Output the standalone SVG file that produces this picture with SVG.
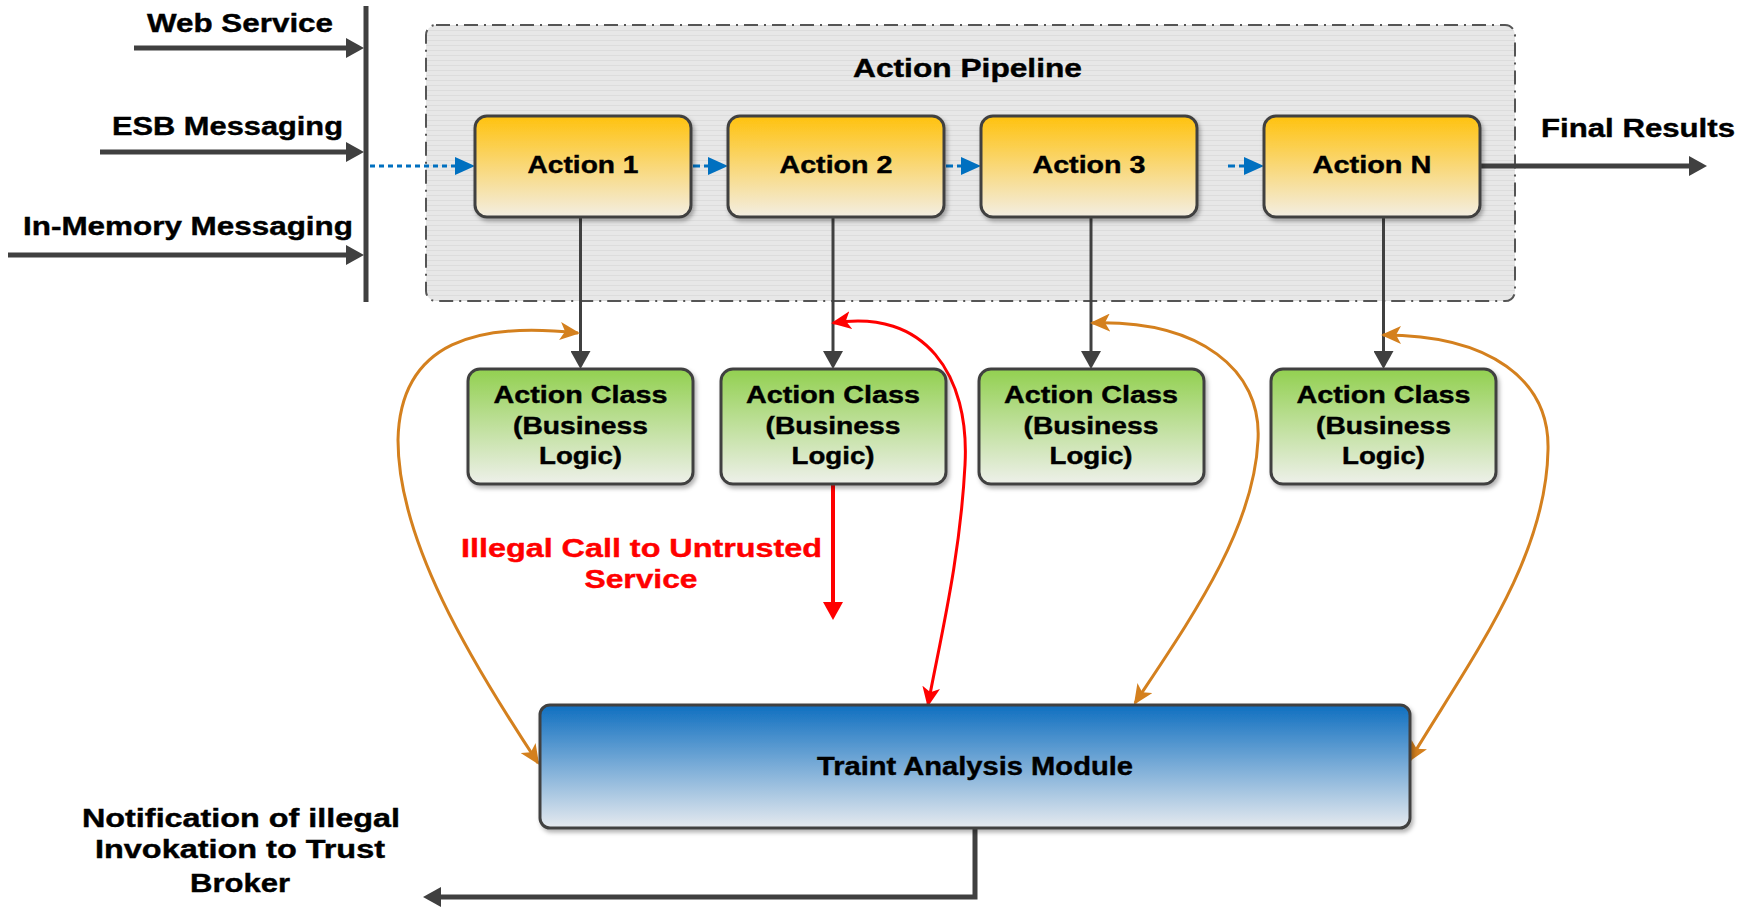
<svg xmlns="http://www.w3.org/2000/svg" width="1754" height="908" viewBox="0 0 1754 908">
<defs>
<style>
.t{font-family:"Liberation Sans",Arial,sans-serif;font-weight:bold;fill:#000;stroke:#000;stroke-width:0.4px;}
.l25{font-size:25px;}
.l24{font-size:24px;}
.l23{font-size:23px;}
.red{fill:#FF0000;stroke:#FF0000;}
.box{stroke:#404040;stroke-width:3;}
.dk{stroke:#404040;fill:none;}
.bl{stroke:#0070C0;stroke-width:3;fill:none;}
.or{stroke:#D4801E;stroke-width:3;fill:none;}
</style>
<linearGradient id="gY" x1="0" y1="0" x2="0" y2="1">
<stop offset="0" stop-color="#FFC20E"/>
<stop offset="1" stop-color="#F3EEE3"/>
</linearGradient>
<linearGradient id="gG" x1="0" y1="0" x2="0" y2="1">
<stop offset="0" stop-color="#92D050"/>
<stop offset="1" stop-color="#EEF0EA"/>
</linearGradient>
<linearGradient id="gB" x1="0" y1="0" x2="0" y2="1">
<stop offset="0" stop-color="#0F6FC0"/>
<stop offset="1" stop-color="#E6EAEF"/>
</linearGradient>
<pattern id="stripe" width="8" height="5" patternUnits="userSpaceOnUse">
<rect width="8" height="5" fill="#E7E7E7"/>
<rect width="8" height="1" fill="#DCDCDC"/>
</pattern>
<filter id="sh" x="-10%" y="-10%" width="125%" height="135%">
<feDropShadow dx="2" dy="3" stdDeviation="2" flood-color="#000" flood-opacity="0.3"/>
</filter>
<marker id="arrD" markerUnits="userSpaceOnUse" viewBox="0 0 18 20" markerWidth="18" markerHeight="20" refX="6" refY="10" orient="auto-start-reverse">
<path d="M0,0 L18,10 L0,20 z" fill="#404040"/>
</marker>
<marker id="arrB" markerUnits="userSpaceOnUse" viewBox="0 0 20 18" markerWidth="20" markerHeight="18" refX="6" refY="9" orient="auto-start-reverse">
<path d="M0,0 L20,9 L0,18 z" fill="#0070C0"/>
</marker>
<marker id="arrO" markerUnits="userSpaceOnUse" viewBox="0 0 20 18" markerWidth="20" markerHeight="18" refX="18" refY="9" orient="auto-start-reverse">
<path d="M0,0 L20,9 L0,18 L5,9 z" fill="#D4801E"/>
</marker>
<marker id="arrR" markerUnits="userSpaceOnUse" viewBox="0 0 20 18" markerWidth="20" markerHeight="18" refX="18" refY="9" orient="auto-start-reverse">
<path d="M0,0 L20,9 L0,18 L5,9 z" fill="#FF0000"/>
</marker>
<marker id="arrR2" markerUnits="userSpaceOnUse" viewBox="0 0 18 20" markerWidth="18" markerHeight="20" refX="6" refY="10" orient="auto-start-reverse">
<path d="M0,0 L18,10 L0,20 z" fill="#FF0000"/>
</marker>
</defs>
<rect width="1754" height="908" fill="#FFFFFF"/>

<g id="pipeline">
<rect x="426" y="25" width="1089" height="276" rx="10" fill="url(#stripe)" stroke="#555" stroke-width="2" stroke-dasharray="14,6,2,6"/>
<text class="t l25" x="853" y="77" textLength="229" lengthAdjust="spacingAndGlyphs">Action Pipeline</text>
</g>

<g id="inputs">
<line x1="366" y1="6" x2="366" y2="302" stroke="#404040" stroke-width="5"/>
<text class="t l25" x="147" y="32" textLength="186" lengthAdjust="spacingAndGlyphs">Web Service</text>
<text class="t l25" x="112" y="135" textLength="231" lengthAdjust="spacingAndGlyphs">ESB Messaging</text>
<text class="t l25" x="23" y="235" textLength="330" lengthAdjust="spacingAndGlyphs">In-Memory Messaging</text>
</g>

<g id="connectors">
<line class="dk" x1="134" y1="48" x2="352" y2="48" stroke-width="5" marker-end="url(#arrD)"/>
<line class="dk" x1="100" y1="152" x2="352" y2="152" stroke-width="5" marker-end="url(#arrD)"/>
<line class="dk" x1="8" y1="255" x2="352" y2="255" stroke-width="5" marker-end="url(#arrD)"/>
<line class="bl" x1="370" y1="166" x2="461" y2="166" stroke-dasharray="5,4" marker-end="url(#arrB)"/>
<line class="bl" x1="693" y1="166" x2="714" y2="166" stroke-dasharray="7,4" marker-end="url(#arrB)"/>
<line class="bl" x1="946" y1="166" x2="967" y2="166" stroke-dasharray="7,4" marker-end="url(#arrB)"/>
<line class="bl" x1="1228" y1="166" x2="1250" y2="166" stroke-dasharray="7,4" marker-end="url(#arrB)"/>
<line class="dk" x1="1480" y1="166" x2="1695" y2="166" stroke-width="5" marker-end="url(#arrD)"/>
<line class="dk" x1="580.5" y1="217" x2="580.5" y2="357" stroke-width="3" marker-end="url(#arrD)"/>
<line class="dk" x1="833" y1="217" x2="833" y2="357" stroke-width="3" marker-end="url(#arrD)"/>
<line class="dk" x1="1091" y1="217" x2="1091" y2="357" stroke-width="3" marker-end="url(#arrD)"/>
<line class="dk" x1="1383.5" y1="217" x2="1383.5" y2="357" stroke-width="3" marker-end="url(#arrD)"/>
<path class="or" d="M 578 333 C 480 322, 400 340, 398 440 C 398 540, 470 660, 538 763" marker-start="url(#arrO)" marker-end="url(#arrO)"/>
<path d="M 833 323 C 925 308, 970 375, 965 465 C 960 560, 940 640, 928 705" stroke="#FF0000" stroke-width="3" fill="none" marker-start="url(#arrR)" marker-end="url(#arrR)"/>
<path class="or" d="M 1092 323 C 1200 320, 1262 370, 1258 440 C 1254 530, 1190 620, 1135 703" marker-start="url(#arrO)" marker-end="url(#arrO)"/>
<path class="or" d="M 1383 335 C 1490 335, 1550 380, 1548 450 C 1546 560, 1470 660, 1410 760" marker-start="url(#arrO)" marker-end="url(#arrO)"/>
<line x1="833" y1="485" x2="833" y2="608" stroke="#FF0000" stroke-width="4" marker-end="url(#arrR2)"/>
<polyline class="dk" points="975,828 975,897 435,897" stroke-width="5" marker-end="url(#arrD)"/>
</g>

<g id="action1">
<rect class="box" x="475" y="116" width="216" height="101" rx="12" fill="url(#gY)" filter="url(#sh)"/>
<text class="t l24" x="583" y="173" text-anchor="middle" textLength="111" lengthAdjust="spacingAndGlyphs">Action 1</text>
</g>
<g id="action2">
<rect class="box" x="728" y="116" width="216" height="101" rx="12" fill="url(#gY)" filter="url(#sh)"/>
<text class="t l24" x="836" y="173" text-anchor="middle" textLength="113" lengthAdjust="spacingAndGlyphs">Action 2</text>
</g>
<g id="action3">
<rect class="box" x="981" y="116" width="216" height="101" rx="12" fill="url(#gY)" filter="url(#sh)"/>
<text class="t l24" x="1089" y="173" text-anchor="middle" textLength="113" lengthAdjust="spacingAndGlyphs">Action 3</text>
</g>
<g id="actionN">
<rect class="box" x="1264" y="116" width="216" height="101" rx="12" fill="url(#gY)" filter="url(#sh)"/>
<text class="t l24" x="1372" y="173" text-anchor="middle" textLength="119" lengthAdjust="spacingAndGlyphs">Action N</text>
</g>

<g id="final-results">
<text class="t l25" x="1541" y="137" textLength="194" lengthAdjust="spacingAndGlyphs">Final Results</text>
</g>

<g id="class1">
<rect class="box" x="468" y="369" width="225" height="115" rx="12" fill="url(#gG)" filter="url(#sh)"/>
<text class="t l23" x="580.5" y="403" text-anchor="middle" textLength="174" lengthAdjust="spacingAndGlyphs">Action Class</text>
<text class="t l23" x="580.5" y="434" text-anchor="middle" textLength="135" lengthAdjust="spacingAndGlyphs">(Business</text>
<text class="t l23" x="580.5" y="464" text-anchor="middle" textLength="83" lengthAdjust="spacingAndGlyphs">Logic)</text>
</g>
<g id="class2">
<rect class="box" x="721" y="369" width="225" height="115" rx="12" fill="url(#gG)" filter="url(#sh)"/>
<text class="t l23" x="833" y="403" text-anchor="middle" textLength="174" lengthAdjust="spacingAndGlyphs">Action Class</text>
<text class="t l23" x="833" y="434" text-anchor="middle" textLength="135" lengthAdjust="spacingAndGlyphs">(Business</text>
<text class="t l23" x="833" y="464" text-anchor="middle" textLength="83" lengthAdjust="spacingAndGlyphs">Logic)</text>
</g>
<g id="class3">
<rect class="box" x="979" y="369" width="225" height="115" rx="12" fill="url(#gG)" filter="url(#sh)"/>
<text class="t l23" x="1091" y="403" text-anchor="middle" textLength="174" lengthAdjust="spacingAndGlyphs">Action Class</text>
<text class="t l23" x="1091" y="434" text-anchor="middle" textLength="135" lengthAdjust="spacingAndGlyphs">(Business</text>
<text class="t l23" x="1091" y="464" text-anchor="middle" textLength="83" lengthAdjust="spacingAndGlyphs">Logic)</text>
</g>
<g id="class4">
<rect class="box" x="1271" y="369" width="225" height="115" rx="12" fill="url(#gG)" filter="url(#sh)"/>
<text class="t l23" x="1383.5" y="403" text-anchor="middle" textLength="174" lengthAdjust="spacingAndGlyphs">Action Class</text>
<text class="t l23" x="1383.5" y="434" text-anchor="middle" textLength="135" lengthAdjust="spacingAndGlyphs">(Business</text>
<text class="t l23" x="1383.5" y="464" text-anchor="middle" textLength="83" lengthAdjust="spacingAndGlyphs">Logic)</text>
</g>

<g id="illegal-call">
<text class="t l25 red" x="461" y="557" textLength="361" lengthAdjust="spacingAndGlyphs">Illegal Call to Untrusted</text>
<text class="t l25 red" x="641" y="588" text-anchor="middle" textLength="113" lengthAdjust="spacingAndGlyphs">Service</text>
</g>

<g id="taint-module">
<rect class="box" x="540" y="705" width="870" height="123" rx="10" fill="url(#gB)" filter="url(#sh)"/>
<text class="t l25" x="817" y="775" textLength="316" lengthAdjust="spacingAndGlyphs">Traint Analysis Module</text>
</g>

<g id="notification">
<text class="t l25" x="241" y="827" text-anchor="middle" textLength="318" lengthAdjust="spacingAndGlyphs">Notification of illegal</text>
<text class="t l25" x="240" y="858" text-anchor="middle" textLength="290" lengthAdjust="spacingAndGlyphs">Invokation to Trust</text>
<text class="t l25" x="240" y="892" text-anchor="middle" textLength="100" lengthAdjust="spacingAndGlyphs">Broker</text>
</g>
</svg>
